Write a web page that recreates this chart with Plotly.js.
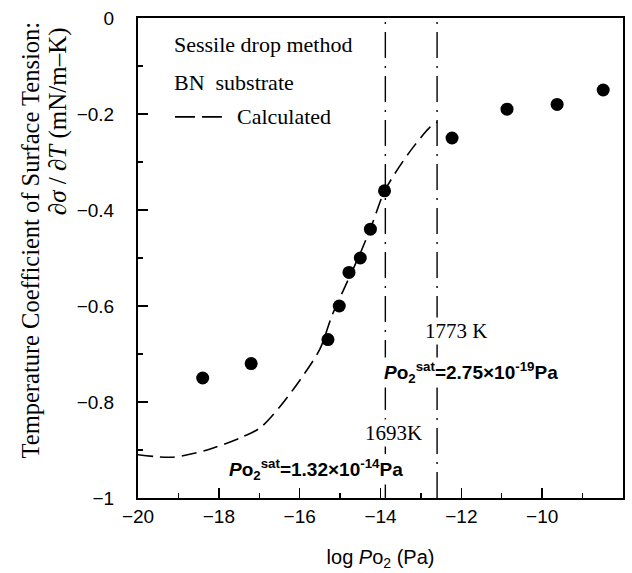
<!DOCTYPE html>
<html>
<head>
<meta charset="utf-8">
<script src="https://cdn.plot.ly/plotly-3.0.1.min.js"></script>
<style>html,body{margin:0;padding:0;background:#fff;}#chart{width:632px;height:573px;}</style>
</head>
<body>
<div id="chart"></div>
<script>
// Measured data (sessile drop method, BN substrate)
const expX = [-18.4, -17.2, -15.3, -15.02, -14.78, -14.5, -14.25, -13.9, -12.23, -10.87, -9.63, -8.49];
const expY = [-0.75, -0.72, -0.67, -0.60, -0.53, -0.50, -0.44, -0.36, -0.25, -0.19, -0.18, -0.15];

// Calculated curve
const calcX = [-20.0, -19.13, -18.29, -17.48, -16.98, -16.49, -15.99, -15.50, -15.20, -14.88, -14.50, -14.21, -13.91, -13.59, -13.19, -12.77, -12.60];
const calcY = [-0.91, -0.915, -0.90, -0.875, -0.854, -0.81, -0.754, -0.69, -0.62, -0.56, -0.49, -0.43, -0.3625, -0.317, -0.269, -0.227, -0.217];

// Saturation oxygen partial pressure lines (log Po2)
const satX = [-13.88, -12.6];
const satTemps = ['1693K', '1773 K'];
const satLabels = ['<i>P</i>o<sub>2</sub><sup>sat</sup>=1.32×10<sup>-14</sup>Pa', '<i>P</i>o<sub>2</sub><sup>sat</sup>=2.75×10<sup>-19</sup>Pa'];

const yRange = [-1, 0];
const xRange = [-20, -8];

const serif = 'Liberation Serif, Times New Roman, serif';
const sans = 'Liberation Sans, Arial, sans-serif';

const traces = [];
satX.forEach(v => {
  traces.push({
    x: [v, v], y: yRange, mode: 'lines', showlegend: false, hoverinfo: 'skip',
    line: {color: '#000', width: 1.4, dash: '26px,8px,2px,8px'}
  });
});
traces.push({
  x: calcX, y: calcY, mode: 'lines', name: 'Calculated', showlegend: false,
  line: {color: '#000', width: 1.6, dash: '15px,7px', shape: 'spline', smoothing: 0.8}
});
traces.push({
  x: expX, y: expY, mode: 'markers', name: 'Sessile drop method', showlegend: false,
  marker: {color: '#000', size: 13}
});

const annotations = [
  {xref: 'paper', yref: 'paper', x: 0.070, y: 0.944, xanchor: 'left', yanchor: 'middle', showarrow: false,
   text: 'Sessile drop method', font: {family: serif, size: 22, color: '#000'}},
  {xref: 'paper', yref: 'paper', x: 0.070, y: 0.865, xanchor: 'left', yanchor: 'middle', showarrow: false,
   text: 'BN  substrate', font: {family: serif, size: 22, color: '#000'}},
  {xref: 'paper', yref: 'paper', x: 0.200, y: 0.794, xanchor: 'left', yanchor: 'middle', showarrow: false,
   text: 'Calculated', font: {family: serif, size: 22, color: '#000'}},
  // temperature labels
  {x: -12.13, y: -0.652, text: satTemps[1], showarrow: false, bgcolor: '#fff',
   font: {family: serif, size: 21, color: '#000'}},
  {x: -13.69, y: -0.865, text: satTemps[0], showarrow: false, bgcolor: '#fff',
   font: {family: serif, size: 21, color: '#000'}},
  // saturation pressure labels
  {x: -11.76, y: -0.7375, text: '<b>' + satLabels[1] + '</b>', showarrow: false, bgcolor: '#fff',
   font: {family: sans, size: 19, color: '#000'}},
  {x: -15.59, y: -0.94, text: '<b>' + satLabels[0] + '</b>', showarrow: false, bgcolor: '#fff',
   font: {family: sans, size: 19, color: '#000'}},
  // y-axis title (two lines, top-aligned)
  {xref: 'paper', yref: 'paper', x: -0.2227, y: 0.998, xanchor: 'center', yanchor: 'top', textangle: -90, showarrow: false,
   text: 'Temperature Coefficient of Surface Tension:', font: {family: serif, size: 24.5, color: '#000'}},
  {xref: 'paper', yref: 'paper', x: -0.165, y: 0.985, xanchor: 'center', yanchor: 'top', textangle: -90, showarrow: false,
   text: '∂<i>σ</i> / ∂<i>T</i> (mN/m–K)', font: {family: serif, size: 25, color: '#000'}}
];

const layout = {
  width: 632, height: 573,
  margin: {l: 138, r: 9, t: 18, b: 75},
  paper_bgcolor: '#fff', plot_bgcolor: '#fff',
  showlegend: false,
  xaxis: {
    range: xRange, dtick: 2, tick0: -20, showgrid: false, zeroline: false,
    showline: true, linecolor: '#000', linewidth: 2, mirror: true,
    ticks: 'inside', ticklen: 10, tickwidth: 1.5, tickcolor: '#000',
    minor: {dtick: 1, ticks: 'inside', ticklen: 5, tickwidth: 1.2, tickcolor: '#000', showgrid: false},
    tickfont: {family: sans, size: 19, color: '#000'}, ticklabelstandoff: 0,
    title: {text: 'log <i>P</i>o<sub>2</sub> (Pa)', font: {family: sans, size: 20, color: '#000'}, standoff: 24}
  },
  yaxis: {
    range: yRange, dtick: 0.2, tick0: 0, showgrid: false, zeroline: false,
    showline: true, linecolor: '#000', linewidth: 2, mirror: true,
    ticks: 'inside', ticklen: 10, tickwidth: 1.5, tickcolor: '#000',
    minor: {dtick: 0.1, ticks: 'inside', ticklen: 5, tickwidth: 1.2, tickcolor: '#000', showgrid: false},
    tickfont: {family: sans, size: 19, color: '#000'}, ticklabelstandoff: 18
  },
  shapes: [
    {type: 'line', xref: 'paper', yref: 'paper', x0: 0.0763, x1: 0.173, y0: 0.794, y1: 0.794,
     line: {color: '#000', width: 1.6, dash: '20px,7px'}}
  ],
  annotations: annotations
};

Plotly.newPlot('chart', traces, layout, {displayModeBar: false, staticPlot: true});
</script>
</body>
</html>
